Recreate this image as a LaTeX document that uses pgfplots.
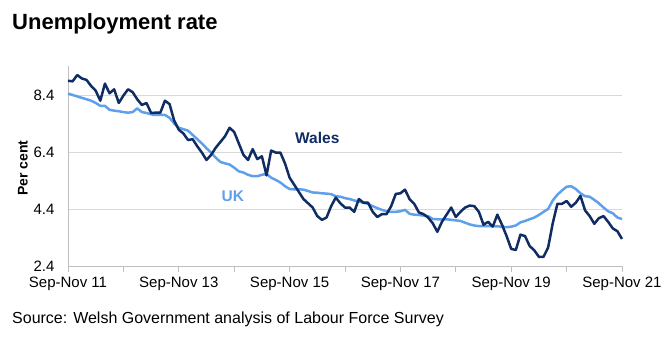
\documentclass[border=0pt]{standalone}
\usepackage{pgfplots}
\pgfplotsset{compat=1.18}
\usepackage{pgfplotstable}
\usepackage{fontspec}
\setmainfont{Liberation Sans}
\definecolor{wales}{HTML}{0F2D63}
\definecolor{uk}{HTML}{5FA0EC}
\definecolor{gridc}{HTML}{D9D9D9}
\definecolor{axc}{HTML}{BFBFBF}
\pgfplotstableread{
i v
0 8.9
1 8.88
2 9.1
3 8.98
4 8.93
5 8.72
6 8.55
7 8.2
8 8.8
9 8.46
10 8.6
11 8.12
12 8.38
13 8.6
14 8.5
15 8.25
16 8.05
17 8.12
18 7.77
19 7.78
20 7.78
21 8.2
22 8.08
23 7.5
24 7.18
25 7.05
26 6.82
27 6.85
28 6.6
29 6.38
30 6.12
31 6.3
32 6.55
33 6.75
34 6.95
35 7.25
36 7.1
37 6.7
38 6.3
39 6.12
40 6.5
41 6.15
42 6.25
43 5.58
44 6.45
45 6.38
46 6.38
47 6.0
48 5.5
49 5.25
50 5.0
51 4.75
52 4.6
53 4.45
54 4.15
55 4.02
56 4.1
57 4.5
58 4.8
59 4.6
60 4.45
61 4.45
62 4.3
63 4.75
64 4.62
65 4.62
66 4.3
67 4.12
68 4.22
69 4.22
70 4.5
71 4.93
72 4.95
73 5.08
74 4.74
75 4.58
76 4.28
77 4.22
78 4.1
79 3.9
80 3.6
81 3.95
82 4.2
83 4.45
84 4.12
85 4.3
86 4.45
87 4.52
88 4.5
89 4.3
90 3.85
91 3.95
92 3.78
93 4.2
94 3.85
95 3.45
96 3.0
97 2.96
98 3.5
99 3.45
100 3.1
101 2.95
102 2.72
103 2.72
104 3.05
105 3.9
106 4.58
107 4.58
108 4.68
109 4.48
110 4.62
111 4.86
112 4.35
113 4.15
114 3.88
115 4.08
116 4.15
117 3.95
118 3.72
119 3.62
120 3.35
}\wales
\pgfplotstableread{
i v
0 8.45
1 8.4
2 8.35
3 8.3
4 8.25
5 8.2
6 8.12
7 8.02
8 8.02
9 7.88
10 7.85
11 7.83
12 7.8
13 7.78
14 7.8
15 7.93
16 7.8
17 7.77
18 7.72
19 7.7
20 7.7
21 7.7
22 7.6
23 7.4
24 7.25
25 7.2
26 7.15
27 7.0
28 6.85
29 6.7
30 6.53
31 6.38
32 6.2
33 6.05
34 6.0
35 5.96
36 5.85
37 5.72
38 5.68
39 5.6
40 5.55
41 5.55
42 5.6
43 5.63
44 5.5
45 5.42
46 5.33
47 5.2
48 5.1
49 5.09
50 5.09
51 5.08
52 5.03
53 4.98
54 4.97
55 4.95
56 4.94
57 4.92
58 4.85
59 4.83
60 4.78
61 4.75
62 4.7
63 4.66
64 4.62
65 4.58
66 4.5
67 4.43
68 4.37
69 4.32
70 4.3
71 4.3
72 4.32
73 4.37
74 4.23
75 4.2
76 4.19
77 4.17
78 4.15
79 4.05
80 4.04
81 4.04
82 4.04
83 4.02
84 4.0
85 3.98
86 3.92
87 3.86
88 3.82
89 3.8
90 3.8
91 3.8
92 3.8
93 3.79
94 3.78
95 3.76
96 3.78
97 3.82
98 3.93
99 3.98
100 4.04
101 4.1
102 4.19
103 4.3
104 4.4
105 4.7
106 4.9
107 5.05
108 5.18
109 5.2
110 5.1
111 4.95
112 4.85
113 4.83
114 4.72
115 4.6
116 4.45
117 4.32
118 4.25
119 4.1
120 4.05
}\uk
\begin{document}
\begin{tikzpicture}
\begin{axis}[name=ax,
  scale only axis, width=554pt, height=199.5pt,
  xmin=0, xmax=120, ymin=2.4, ymax=9.4,
  axis lines*=left,
  axis line style={axc, line width=0.8pt},
  xtick={0,12,...,120},
  xticklabels={Sep-Nov 11,,Sep-Nov 13,,Sep-Nov 15,,Sep-Nov 17,,Sep-Nov 19,,Sep-Nov 21},
  x tick style={axc, line width=0.8pt},
  tick align=outside, major tick length=6pt,
  ytick={2.4,4.4,6.4,8.4},
  yticklabels={2.4,4.4,6.4,8.4},
  y tick style={draw=none},
  ymajorgrids, grid style={gridc, line width=0.8pt},
  tick label style={font=\fontsize{15}{18}\selectfont, black},
  xticklabel style={yshift=-2pt},
  yticklabel style={xshift=-4pt},
  /pgf/number format/assume math mode=true,
  clip=false,
]
\addplot[uk, line width=2.5pt, line join=round] table[x=i, y=v] {\uk};
\addplot[wales, line width=2.5pt, line join=round] table[x=i, y=v] {\wales};
\node[wales, font=\fontsize{15.5}{18}\selectfont\bfseries] at (axis cs:54,6.89) {Wales};
\node[uk, font=\fontsize{15.5}{18}\selectfont\bfseries] at (axis cs:35.7,4.86) {UK};
\end{axis}
\node[anchor=base west, font=\fontsize{22}{26}\selectfont\bfseries, inner sep=0pt] at ([xshift=-56pt, yshift=236pt]ax.south west) {Unemployment rate};
\node[anchor=base west, font=\fontsize{16}{19}\selectfont, inner sep=0pt] at ([xshift=-56pt, yshift=-58pt]ax.south west) {Source: Welsh Government analysis of Labour Force Survey};
\node[rotate=90, font=\fontsize{14}{17}\selectfont\bfseries, inner sep=0pt] at ([xshift=-45pt, yshift=98pt]ax.south west) {Per cent};
\pgfresetboundingbox
\path[use as bounding box] ([xshift=-68pt, yshift=-77pt]ax.south west) rectangle ([xshift=50pt, yshift=66.5pt]ax.north east);
\end{tikzpicture}
\end{document}
